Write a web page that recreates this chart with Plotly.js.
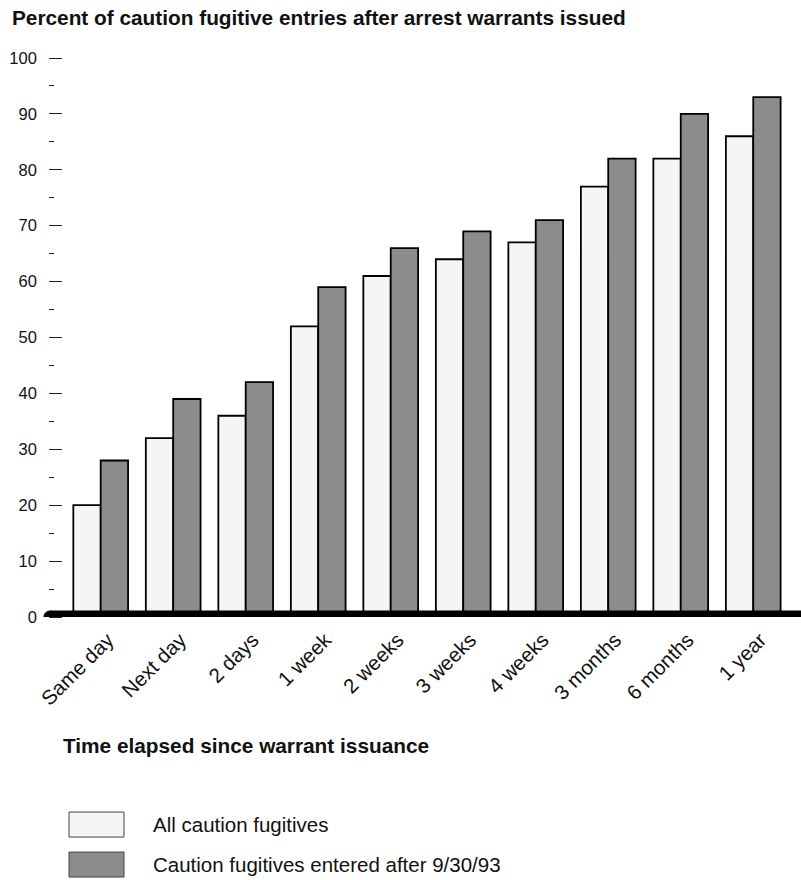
<!DOCTYPE html>
<html>
<head>
<meta charset="utf-8">
<script src="https://cdn.plot.ly/plotly-3.0.1.min.js"></script>
<style>html,body{margin:0;padding:0;background:#fff;}#chart{width:801px;height:880px;}</style>
</head>
<body>
<div id="chart"></div>
<script>
const categories = ["Same day","Next day","2 days","1 week","2 weeks","3 weeks","4 weeks","3 months","6 months","1 year"];
const allCaution = [20,32,36,52,61,64,67,77,82,86];
const afterSept93 = [28,39,42,59,66,69,71,82,90,93];
const seriesNames = ["All caution fugitives","Caution fugitives entered after 9/30/93"];
const majorTicks = [0,10,20,30,40,50,60,70,80,90,100];
const minorTicks = [5,15,25,35,45,55,65,75,85,95];
const chartTitle = "Percent of caution fugitive entries after arrest warrants issued";
const xTitle = "Time elapsed since warrant issuance";

const W = 801, H = 880;
const ML = 44, MR = 0, MT = 58.3, MB = H - 617.4;
const PW = W - ML - MR, PH = H - MT - MB;
const px = x => (x - ML) / PW;          // pixel -> x paper
const py = y => (H - MB - y) / PH;      // pixel -> y paper

const FONT = "Liberation Sans, Arial, sans-serif";
const fill1 = "#f5f5f5", fill2 = "#8c8c8c";

const traces = [
  {type:"bar", x:categories, y:allCaution, name:seriesNames[0],
   marker:{color:fill1, line:{color:"#000", width:1.8}}, hoverinfo:"x+y"},
  {type:"bar", x:categories, y:afterSept93, name:seriesNames[1],
   marker:{color:fill2, line:{color:"#000", width:1.8}}, hoverinfo:"x+y"},
  {type:"scatter", x:[categories[0]], y:[0], yaxis:"y2", mode:"markers",
   marker:{opacity:0}, hoverinfo:"skip", showlegend:false}
];

const layout = {
  width:W, height:H,
  margin:{l:ML, r:MR, t:MT, b:MB, pad:0},
  paper_bgcolor:"#fff", plot_bgcolor:"rgba(0,0,0,0)",
  showlegend:false,
  barmode:"group", bargap:0.245, bargroupgap:0,
  font:{family:FONT, color:"#111"},
  title:{text:"<b>"+chartTitle+"</b>", x:12/W, xanchor:"left", xref:"container",
         y:1-17.5/H, yref:"container", yanchor:"middle",
         font:{family:FONT, size:20.8, color:"#111"}},
  xaxis:{domain:[px(60.5), px(789.5)], type:"category", showline:false, showgrid:false,
         zeroline:false, ticks:"", tickangle:-45, tickfont:{size:20.5, family:FONT, color:"#111"},
         ticklabelstandoff:6, ticklabelshift:7, anchor:"y", fixedrange:true},
  yaxis:{range:[0,100], anchor:"free", position:px(61.7), showline:false, showgrid:false,
         zeroline:false, ticks:"outside", ticklen:12.5, tickwidth:1, tickcolor:"#222",
         tickmode:"array", tickvals:majorTicks, ticktext:majorTicks.map(String),
         tickfont:{size:16.5, family:FONT, color:"#111"}, ticklabelstandoff:9, fixedrange:true},
  yaxis2:{range:[0,100], overlaying:"y", anchor:"free", position:px(54.3), side:"left",
          showline:false, showgrid:false, zeroline:false, ticks:"outside", ticklen:5,
          tickwidth:1, tickcolor:"#222", tickmode:"array", tickvals:minorTicks,
          showticklabels:false, fixedrange:true},
  shapes:[
    {type:"line", xref:"paper", yref:"y", x0:px(50), x1:1.02, y0:0, y1:0,
     line:{color:"#000", width:13}, layer:"above"},
    {type:"circle", xref:"paper", yref:"y", xsizemode:"pixel", ysizemode:"pixel",
     xanchor:px(50), yanchor:0, x0:-6.5, x1:6.5, y0:-6.5, y1:6.5,
     fillcolor:"#000", line:{width:0}, layer:"above"},
    {type:"rect", xref:"paper", yref:"paper", x0:px(69), x1:px(124), y0:py(837.5), y1:py(812.5),
     fillcolor:fill1, line:{color:"#444", width:1}},
    {type:"rect", xref:"paper", yref:"paper", x0:px(69), x1:px(124), y0:py(877.5), y1:py(852.5),
     fillcolor:fill2, line:{color:"#444", width:1}}
  ],
  annotations:[
    {text:"<b>"+xTitle+"</b>", xref:"paper", yref:"paper", x:px(61), y:py(745.5),
     xanchor:"left", yanchor:"middle", showarrow:false,
     font:{family:FONT, size:20.8, color:"#111"}},
    {text:seriesNames[0], xref:"paper", yref:"paper", x:px(151), y:py(825),
     xanchor:"left", yanchor:"middle", showarrow:false,
     font:{family:FONT, size:20.5, color:"#111"}},
    {text:seriesNames[1], xref:"paper", yref:"paper", x:px(151), y:py(865),
     xanchor:"left", yanchor:"middle", showarrow:false,
     font:{family:FONT, size:20.5, color:"#111"}}
  ]
};

Plotly.newPlot("chart", traces, layout, {displayModeBar:false, staticPlot:true});
</script>
</body>
</html>
